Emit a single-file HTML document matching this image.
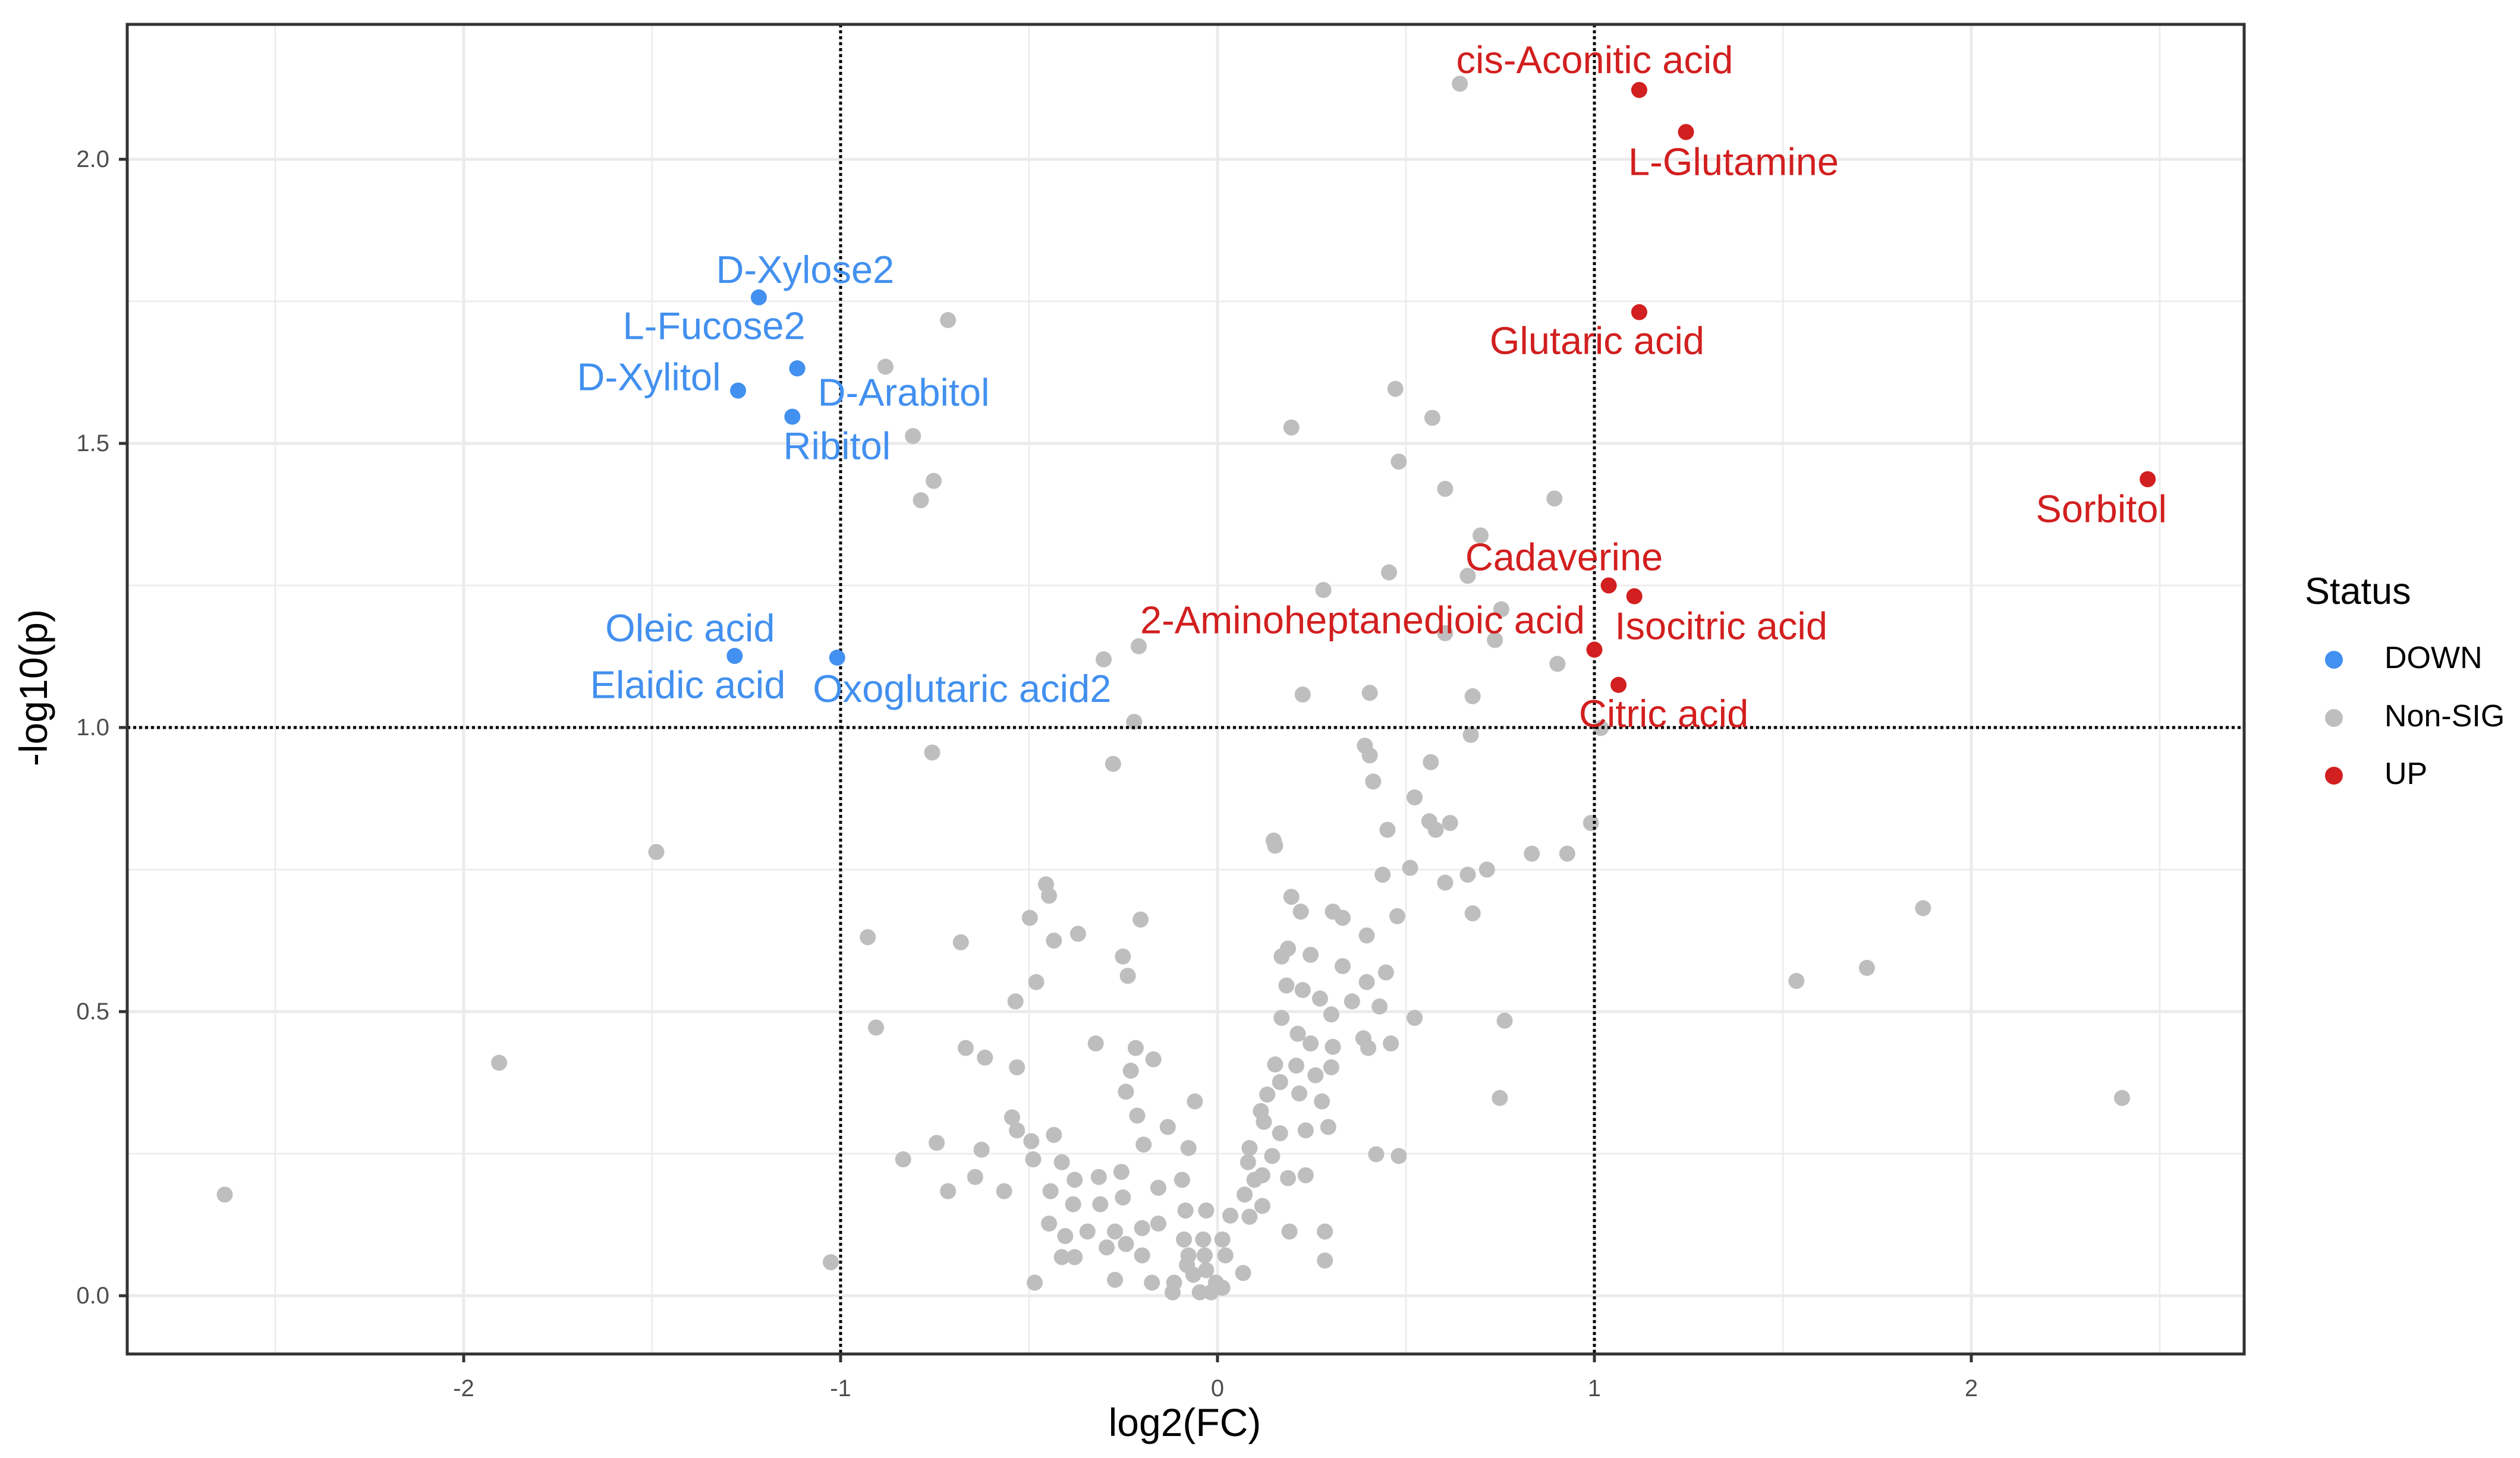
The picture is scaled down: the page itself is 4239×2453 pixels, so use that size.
<!DOCTYPE html>
<html><head><meta charset="utf-8"><style>
html,body{margin:0;padding:0;background:#fff;}
svg{display:block;font-family:"Liberation Sans",sans-serif;}
</style></head><body>
<svg id="chart" width="4239" height="2453" viewBox="0 0 4239 2453" xmlns="http://www.w3.org/2000/svg"></svg>
<script>
// ---- data ----
const grayX = [-2.634,-1.906,-1.489,-1.026,0.643,-0.715,-0.881,-0.808,-0.753,-0.787,0.472,0.570,0.196,0.481,0.604,0.894,0.698,0.455,0.664,0.281,0.753,0.604,0.736,-0.209,-0.302,0.902,0.226,0.404,0.677,-0.221,0.672,1.017,0.391,-0.757,-0.277,0.404,0.566,0.413,0.523,0.451,0.562,0.579,0.617,0.991,0.149,0.153,0.834,0.928,0.715,0.664,0.511,0.438,0.604,0.196,0.221,0.306,0.332,0.477,0.677,-0.455,-0.447,-0.498,-0.370,-0.204,-0.434,-0.928,-0.681,0.396,0.187,0.170,0.247,0.332,0.447,0.396,-0.251,-0.238,-0.481,-0.536,0.183,0.226,0.272,0.357,0.430,0.523,0.762,0.302,0.170,-0.906,-0.668,-0.617,-0.532,-0.323,-0.217,-0.170,-0.230,0.213,0.247,0.306,0.387,0.460,0.400,0.153,0.209,0.260,0.302,0.166,0.217,0.277,0.132,0.115,-0.243,-0.213,-0.060,-0.545,-0.532,-0.745,-0.626,-0.494,-0.434,0.123,0.166,0.234,0.294,0.749,-0.834,-0.643,-0.715,-0.566,-0.489,-0.413,-0.379,-0.315,-0.255,-0.196,-0.132,-0.077,0.085,0.145,0.421,0.481,0.081,0.119,0.234,-0.443,-0.383,-0.311,-0.251,-0.157,-0.094,0.098,0.187,0.072,0.119,-0.447,-0.404,-0.345,-0.272,-0.200,-0.157,-0.085,-0.030,0.034,0.085,0.191,0.285,-0.294,-0.243,-0.089,-0.038,0.013,-0.413,-0.379,-0.200,-0.077,-0.034,0.021,0.285,-0.485,-0.272,-0.174,-0.115,-0.064,-0.004,0.068,-0.119,-0.047,-0.017,0.013,-0.081,-0.030,1.536,1.723,1.872,2.400];
const grayY = [0.178,0.410,0.781,0.059,2.133,1.717,1.635,1.513,1.434,1.400,1.596,1.545,1.528,1.468,1.420,1.403,1.338,1.273,1.267,1.242,1.208,1.166,1.154,1.143,1.120,1.112,1.058,1.061,1.055,1.010,0.987,0.999,0.968,0.956,0.936,0.951,0.939,0.905,0.877,0.820,0.835,0.820,0.832,0.832,0.801,0.792,0.778,0.778,0.750,0.741,0.753,0.741,0.727,0.702,0.676,0.676,0.665,0.668,0.673,0.724,0.704,0.665,0.637,0.662,0.625,0.631,0.622,0.634,0.611,0.597,0.600,0.580,0.569,0.552,0.597,0.563,0.552,0.518,0.546,0.538,0.523,0.518,0.509,0.489,0.484,0.495,0.489,0.472,0.436,0.419,0.402,0.444,0.436,0.416,0.396,0.461,0.444,0.438,0.453,0.444,0.436,0.407,0.405,0.388,0.402,0.376,0.356,0.342,0.354,0.325,0.359,0.317,0.342,0.314,0.291,0.269,0.257,0.272,0.283,0.306,0.286,0.291,0.297,0.348,0.240,0.209,0.184,0.184,0.240,0.235,0.204,0.209,0.218,0.266,0.297,0.260,0.260,0.246,0.249,0.246,0.235,0.212,0.212,0.184,0.161,0.161,0.173,0.190,0.204,0.204,0.207,0.178,0.158,0.127,0.105,0.113,0.113,0.119,0.127,0.150,0.150,0.141,0.139,0.113,0.113,0.085,0.091,0.099,0.099,0.099,0.068,0.068,0.071,0.071,0.071,0.071,0.062,0.023,0.028,0.023,0.023,0.037,0.023,0.040,0.006,0.006,0.006,0.014,0.054,0.045,0.554,0.577,0.682,0.348];
const upNames = ["cis-Aconitic acid","L-Glutamine","Glutaric acid","Sorbitol","Cadaverine","Isocitric acid","2-Aminoheptanedioic acid","Citric acid"];
const upX = [1.119,1.243,1.119,2.468,1.038,1.106,1.000,1.064];
const upY = [2.122,2.048,1.731,1.437,1.250,1.231,1.137,1.075];
const downNames = ["D-Xylose2","L-Fucose2","D-Xylitol","Ribitol","Oleic acid","Oxoglutaric acid2","D-Arabitol"];
const downX = [-1.217,-1.115,-1.272,-1.128,-1.281,-1.009,-1.115];
const downY = [1.757,1.632,1.593,1.547,1.126,1.123,1.632];
const xTicks = [-2,-1,0,1,2];
const yTicks = [0,0.5,1,1.5,2];
const yTickLabels = ["0.0","0.5","1.0","1.5","2.0"];

// ---- layout ----
const L=214,R=3775,T=41,B=2278;
const sx=v=>2048+634*v;
const sy=v=>2180-956*v;
const NS="http://www.w3.org/2000/svg";
const svg=document.getElementById('chart');
function mk(tag,attrs,parent){const e=document.createElementNS(NS,tag);for(const k in attrs)e.setAttribute(k,attrs[k]);(parent||svg).appendChild(e);return e;}

const bg=mk('rect',{x:L,y:T,width:R-L,height:B-T,fill:'#fff'});


const grid=mk('g',{});


for(let v=-2.5;v<=2.5;v+=0.5){const maj=Math.abs(v-Math.round(v))<1e-6;const x=sx(v);if(x<L||x>R)continue;
 mk('line',{x1:x,x2:x,y1:T,y2:B,stroke:'#ebebeb','stroke-width':maj?5:2.5},grid);}
for(let v=-0.25;v<=2.3;v+=0.25){const maj=Math.abs(v*2-Math.round(v*2))<1e-6;const y=sy(v);if(y<T||y>B)continue;
 mk('line',{x1:L,x2:R,y1:y,y2:y,stroke:'#ebebeb','stroke-width':maj?5:2.5},grid);}

const gp=mk('g',{});


for(let i=0;i<grayX.length;i++){const c=mk('circle',{cx:sx(grayX[i]),cy:sy(grayY[i]),r:13.5,fill:'#bebebe'},gp);
 
 }

// threshold lines
const th=mk('g',{stroke:'#000','stroke-width':5,'stroke-dasharray':'5 5'});


mk('line',{x1:sx(-1),x2:sx(-1),y1:T,y2:B},th);
mk('line',{x1:sx(1),x2:sx(1),y1:T,y2:B},th);
mk('line',{x1:L,x2:R,y1:sy(1),y2:sy(1)},th);

const FS=65;
const upOff=[[-75,-51],[80,50],[-71,48],[-78,50],[-75,-48],[146,50],[-390,-50],[76,48]];
const downOff=[[78,-47],[-140,-72],[-150,-23],[75,49],[-75,-47],[210,52],[179,40]];
const gu=mk('g',{});


for(let i=0;i<upX.length;i++){const c=mk('circle',{cx:sx(upX[i]),cy:sy(upY[i]),r:13.5,fill:'#d21f1f'},gu);
 
 
 const t=mk('text',{x:sx(upX[i])+upOff[i][0],y:sy(upY[i])+upOff[i][1],'text-anchor':'middle','dominant-baseline':'central','font-size':FS,fill:'#d21f1f'},gu);
 t.textContent=upNames[i];
 
 }
const gd=mk('g',{});


for(let i=0;i<downX.length;i++){const c=mk('circle',{cx:sx(downX[i]),cy:sy(downY[i]),r:13.5,fill:'#4290ef'},gd);
 
 
 const t=mk('text',{x:sx(downX[i])+downOff[i][0],y:sy(downY[i])+downOff[i][1],'text-anchor':'middle','dominant-baseline':'central','font-size':FS,fill:'#4290ef'},gd);
 t.textContent=downNames[i];
 
 }
const el=mk('text',{x:1157,y:1152,'text-anchor':'middle','dominant-baseline':'central','font-size':FS,fill:'#4290ef'});
el.textContent='Elaidic acid';



const border=mk('rect',{x:L,y:T,width:R-L,height:B-T,fill:'none',stroke:'#333','stroke-width':5});



const ax=mk('g',{});


xTicks.forEach(v=>{mk('line',{x1:sx(v),x2:sx(v),y1:B,y2:B+14,stroke:'#333','stroke-width':5},ax);
 const t=mk('text',{x:sx(v),y:2336,'text-anchor':'middle','dominant-baseline':'central','font-size':40,fill:'#4d4d4d'},ax);
 t.textContent=String(v);
 
 });
const ay=mk('g',{});


yTicks.forEach((v,i)=>{mk('line',{x1:L-14,x2:L,y1:sy(v),y2:sy(v),stroke:'#333','stroke-width':5},ay);
 const t=mk('text',{x:184,y:sy(v),'text-anchor':'end','dominant-baseline':'central','font-size':40,fill:'#4d4d4d'},ay);
 t.textContent=yTickLabels[i];
 
 });
const xt=mk('text',{x:1993,y:2393,'text-anchor':'middle','dominant-baseline':'central','font-size':66,fill:'#000'});
xt.textContent='log2(FC)';


const yt=mk('text',{x:0,y:0,'text-anchor':'middle','dominant-baseline':'central','font-size':66,fill:'#000',transform:'translate(56,1157) rotate(-90)'});
yt.textContent='-log10(p)';



// legend
const lg=mk('g',{});


const lt=mk('text',{x:3877,y:995,'dominant-baseline':'central','font-size':63,fill:'#000'},lg);
lt.textContent='Status';


const legNames=['DOWN','Non-SIG','UP'];
const legCols=['#4290ef','#bebebe','#d21f1f'];
const legY=[1107,1205,1302];
for(let i=0;i<3;i++){
 const e=mk('g',{},lg);
 
 
 mk('circle',{cx:3926,cy:legY[i]+3,r:15,fill:legCols[i]},e);
 const t=mk('text',{x:4011,y:legY[i],'dominant-baseline':'central','font-size':52,fill:'#000'},e);
 t.textContent=legNames[i];}
</script>
</body></html>
